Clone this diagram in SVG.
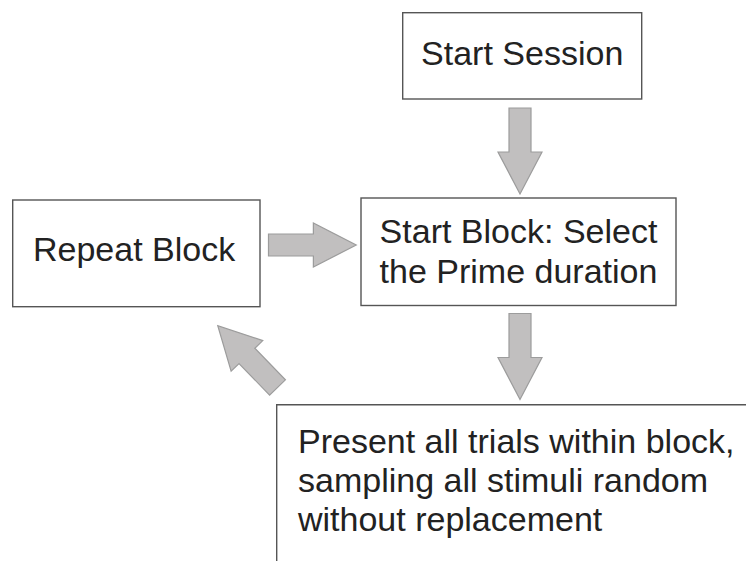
<svg xmlns="http://www.w3.org/2000/svg" xmlns:xlink="http://www.w3.org/1999/xlink" width="746" height="561" viewBox="0 0 746 561">
  <style>
    .box { fill: #ffffff; stroke: #555555; stroke-width: 1.4; }
    .lbl { font-family: "Liberation Sans", Arial, sans-serif; font-size: 34px; fill: #222222; }
    .arrow { fill: #c1bfbf; stroke: #9c9c9c; stroke-width: 1.2; stroke-linejoin: miter; }
  </style>
  <defs>
    <path id="blockArrow" d="M0,-11 L44,-11 L44,-22 L86,0 L44,22 L44,11 L0,11 Z"/>
  </defs>
  <rect width="746" height="561" fill="#ffffff"/>

  <g id="start-session">
    <rect class="box" x="402.7" y="12.7" width="239" height="86.3"/>
    <text class="lbl" x="522.2" y="65" text-anchor="middle">Start Session</text>
  </g>

  <g id="start-block">
    <rect class="box" x="361" y="198" width="315" height="107.5"/>
    <text class="lbl" x="518.5" y="243" text-anchor="middle">Start Block: Select</text>
    <text class="lbl" x="518.5" y="282.5" text-anchor="middle">the Prime duration</text>
  </g>

  <g id="repeat-block">
    <rect class="box" x="12.7" y="200" width="247.3" height="106.7"/>
    <text class="lbl" x="33" y="261">Repeat Block</text>
  </g>

  <g id="present-trials">
    <path class="box" d="M276.7,561 L276.7,404.7 L746,404.7"/>
    <text class="lbl" x="298" y="453">Present all trials within block,</text>
    <text class="lbl" x="298" y="492">sampling all stimuli random</text>
    <text class="lbl" x="298" y="531">without replacement</text>
  </g>

  <g id="connectors">
    <use xlink:href="#blockArrow" class="arrow" transform="translate(520,108) rotate(90)"/>
    <use xlink:href="#blockArrow" class="arrow" transform="translate(520,313.5) rotate(90)"/>
    <use xlink:href="#blockArrow" class="arrow" transform="translate(268.5,245) scale(1.02,1)"/>
    <use xlink:href="#blockArrow" class="arrow" transform="translate(277.5,387.5) rotate(-134)"/>
  </g>
</svg>
